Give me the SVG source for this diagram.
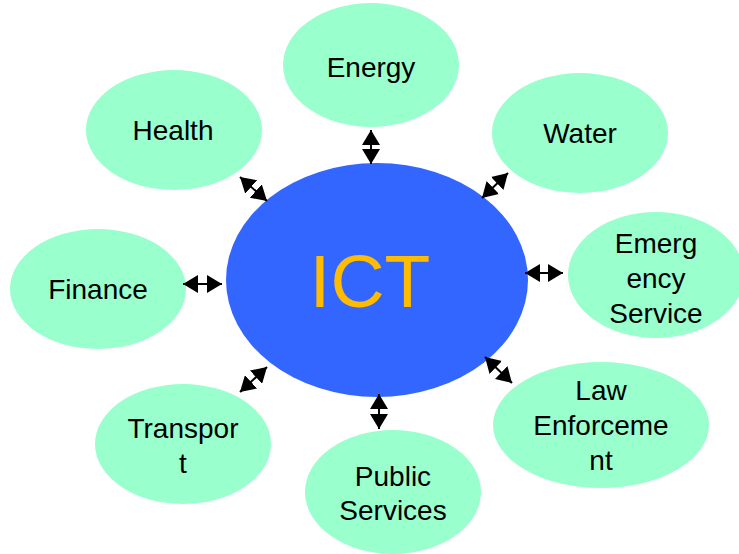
<svg xmlns="http://www.w3.org/2000/svg" width="739" height="554" viewBox="0 0 739 554">
<defs>
<marker id="ah" viewBox="0 0 15 18" refX="15" refY="9" markerWidth="15" markerHeight="18" markerUnits="userSpaceOnUse" orient="auto-start-reverse">
<path d="M0,0 L15,9 L0,18 Z" fill="#000"/>
</marker>
</defs>
<style>
.n{fill:#99FFCC;stroke:none}
.t{font-family:"Liberation Sans",Arial,sans-serif;font-size:28px;fill:#000;text-anchor:middle}
.c{stroke:#000;stroke-width:2;fill:none;marker-start:url(#ah);marker-end:url(#ah)}
</style>
<rect width="739" height="554" fill="#fff"/>
<g id="ict">
<ellipse cx="377" cy="280" rx="151" ry="117" fill="#3366FF"/>
<text x="370" y="307" style="font-family:'Liberation Sans',Arial,sans-serif;font-size:75px;fill:#FFBB00;text-anchor:middle">ICT</text>
</g>
<g id="energy"><ellipse class="n" cx="371" cy="65" rx="88" ry="62"/><text class="t" x="371" y="77">Energy</text></g>
<g id="health"><ellipse class="n" cx="174" cy="130" rx="88" ry="60"/><text class="t" x="173" y="140">Health</text></g>
<g id="water"><ellipse class="n" cx="580" cy="133" rx="88" ry="60"/><text class="t" x="580" y="143">Water</text></g>
<g id="finance"><ellipse class="n" cx="98" cy="289" rx="88" ry="60"/><text class="t" x="98" y="299">Finance</text></g>
<g id="emergency"><ellipse class="n" cx="656" cy="275" rx="88" ry="63"/><text class="t" x="656" y="253">Emerg</text><text class="t" x="656" y="288">ency</text><text class="t" x="656" y="323">Service</text></g>
<g id="law"><ellipse class="n" cx="601" cy="425" rx="108" ry="63"/><text class="t" x="601" y="400">Law</text><text class="t" x="601" y="435">Enforceme</text><text class="t" x="601" y="470">nt</text></g>
<g id="public"><ellipse class="n" cx="393" cy="492" rx="88" ry="62"/><text class="t" x="393" y="486">Public</text><text class="t" x="393" y="520">Services</text></g>
<g id="transport"><ellipse class="n" cx="183" cy="444" rx="88" ry="60"/><text class="t" x="183" y="438">Transpor</text><text class="t" x="183" y="473">t</text></g>
<g id="connectors">
<line class="c" x1="371" y1="130" x2="371" y2="164"/>
<line class="c" x1="379" y1="394" x2="379" y2="429"/>
<line class="c" x1="183" y1="284" x2="222" y2="284"/>
<line class="c" x1="525" y1="273" x2="563" y2="273"/>
<line class="c" x1="240" y1="177" x2="267" y2="201"/>
<line class="c" x1="508" y1="173" x2="482" y2="198"/>
<line class="c" x1="267" y1="367" x2="240" y2="392"/>
<line class="c" x1="485" y1="357" x2="512" y2="383"/>
</g>
</svg>
